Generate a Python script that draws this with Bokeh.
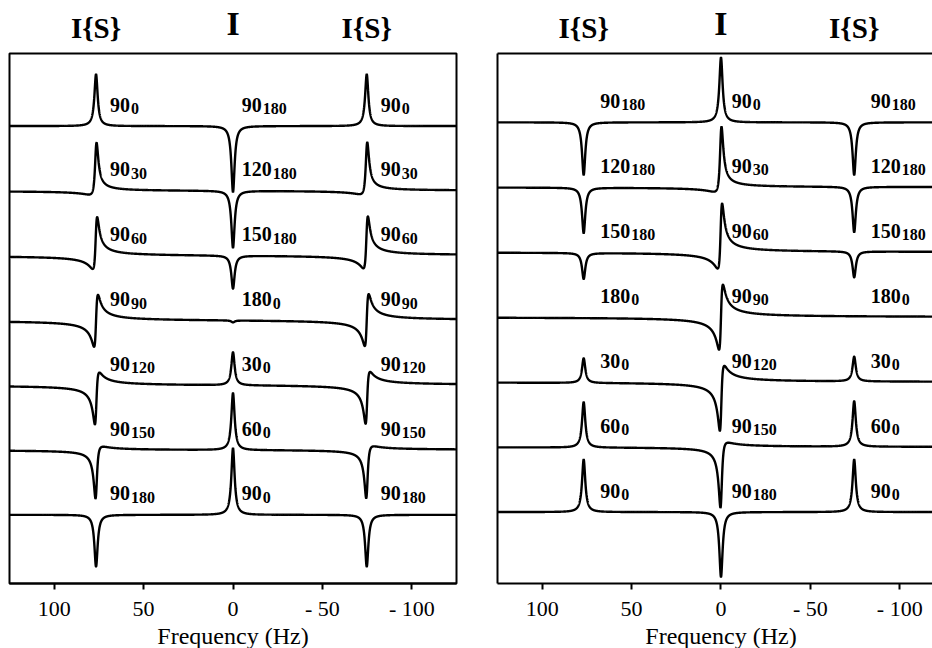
import numpy as np
from bokeh.plotting import figure
from bokeh.layouts import row, column
from bokeh.models import Range1d, FixedTicker, LinearAxis, ColumnDataSource
from bokeh.core.properties import value
from bokeh.embed import file_html
from bokeh.resources import INLINE

# ---------------- data ----------------
tick_values = [100, 50, 0, -50, -100]
tick_labels = ["100", "50", "0", "- 50", "- 100"]
axis_title = "Frequency (Hz)"
header_text = ["I{S}", "I", "I{S}"]
header_size = ["29px", "34px", "29px"]

trace_offsets = [6, 5, 4, 3, 2, 1, 0]          # stacking of the 7 spectra
line_halfwidth_hz = 1.1                         # Lorentzian half width

# Left panel
left_peak_hz = [76.6, 0.0, -74.8]
left_side_amp = [0.80, 0.80, 0.80, 0.80, 0.80, 0.80, 0.80]
left_side_phase = [0, 30, 60, 90, 120, 150, 180]
left_center_amp = [-1.02, -0.88, -0.51, -0.03, 0.51, 0.88, 1.03]
left_center_phase = [0, 0, 0, 0, 0, 0, 0]
left_label_hz = [68.8, -4.9, -82.6]
left_side_main = ["90", "90", "90", "90", "90", "90", "90"]
left_side_sub = ["0", "30", "60", "90", "120", "150", "180"]
left_center_main = ["90", "120", "150", "180", "30", "60", "90"]
left_center_sub = ["180", "180", "180", "0", "0", "0", "0"]

# Right panel
right_peak_hz = [76.8, 0.0, -74.5]
right_side_amp = [-0.81, -0.70, -0.40, 0.0, 0.38, 0.70, 0.81]
right_side_phase = [0, 0, 0, 0, 0, 0, 0]
right_center_amp = [1.0, 1.0, 1.0, 1.0, 1.0, 1.0, 1.0]
right_center_phase = [0, 30, 60, 90, 120, 150, 180]
right_label_hz = [67.5, -6.0, -83.8]
right_side_main = ["90", "120", "150", "180", "30", "60", "90"]
right_side_sub = ["180", "180", "180", "0", "0", "0", "0"]
right_center_main = ["90", "90", "90", "90", "90", "90", "90"]
right_center_sub = ["0", "30", "60", "90", "120", "150", "180"]

freq = np.linspace(-130, 130, 5201)
FONT = "Liberation Serif"

HEADER_H = 50
PLOT_TOP = 3
FRAME_H = 533
PLOT_BOTTOM = 37
FOOTER_H = 25


def spectrum(peaks, amps, phases, offset):
    g = line_halfwidth_hz
    y = np.full_like(freq, float(offset))
    for f0, a, ph in zip(peaks, amps, phases):
        d = freq - f0
        den = d * d + g * g
        absorp = g * g / den
        disp = -d * g / den
        r = np.deg2rad(ph)
        y = y + a * (np.cos(r) * absorp + np.sin(r) * disp)
    return y


def blank(width, height, xr, ml, mr):
    f = figure(width=width, height=height, x_range=xr, y_range=Range1d(0, height),
               x_axis_location=None, y_axis_location=None, output_backend="svg",
               toolbar_location=None, min_border_left=ml, min_border_right=mr,
               min_border_top=0, min_border_bottom=0)
    f.grid.visible = False
    f.outline_line_color = None
    f.background_fill_color = "white"
    f.border_fill_color = "white"
    return f


def build(width, x_start, x_end, y_start, y_end, min_left, min_right, peaks,
          side_amp, side_phase, center_amp, center_phase, label_hz,
          side_main, side_sub, center_main, center_sub, with_outline):
    xr = Range1d(x_start, x_end)

    # header with the line assignments
    head = blank(width, HEADER_H, xr, min_left, min_right)
    hsrc = ColumnDataSource(dict(x=peaks, t=header_text, s=header_size,
                                 y=[HEADER_H - 27, HEADER_H - 23, HEADER_H - 27]))
    head.text(x="x", y="y", text="t", text_font_size="s", source=hsrc,
              text_font=value(FONT), text_font_style="bold", text_color="black",
              text_align="center", text_baseline="alphabetic")

    p = figure(width=width, height=PLOT_TOP + FRAME_H + PLOT_BOTTOM, x_range=xr,
               y_range=Range1d(y_start, y_end), output_backend="svg",
               toolbar_location=None, min_border_left=min_left,
               min_border_right=min_right, min_border_top=PLOT_TOP,
               min_border_bottom=PLOT_BOTTOM,
               y_axis_location="left" if not with_outline else None)
    p.grid.visible = False
    p.background_fill_color = "white"
    p.border_fill_color = "white"
    if with_outline:
        p.outline_line_color = "black"
        p.outline_line_width = 2
        p.outline_line_alpha = 1
    else:
        p.outline_line_color = None
        ya = p.yaxis[0]
        ya.ticker = FixedTicker(ticks=[])
        ya.major_label_text_font_size = "0px"
        ya.major_tick_line_color = None
        ya.minor_tick_line_color = None
        ya.major_tick_out = 0
        ya.major_tick_in = 0
        ya.major_label_standoff = 0
        ya.axis_line_width = 2
        top = LinearAxis(ticker=FixedTicker(ticks=[]), axis_line_width=2,
                         major_tick_line_color=None, minor_tick_line_color=None,
                         major_tick_out=0, major_tick_in=0, major_label_standoff=0,
                         major_label_text_font_size="0px")
        p.add_layout(top, "above")

    xa = p.below[0]
    xa.ticker = FixedTicker(ticks=tick_values)
    xa.major_label_overrides = dict(zip(tick_values, tick_labels))
    xa.major_tick_out = 6
    xa.major_tick_in = 0
    xa.major_tick_line_width = 2
    xa.minor_tick_line_color = None
    xa.axis_line_width = 2
    xa.major_label_standoff = 6
    xa.major_label_text_font = FONT
    xa.major_label_text_font_size = "22px"
    xa.major_label_text_color = "black"

    for i, off in enumerate(trace_offsets):
        amps = [side_amp[i], center_amp[i], side_amp[i]]
        phs = [side_phase[i], center_phase[i], side_phase[i]]
        p.line(freq, spectrum(peaks, amps, phs, off), line_color="black", line_width=2.4)

    lx, ly, mains, subs = [], [], [], []
    for i, off in enumerate(trace_offsets):
        for k, lab in enumerate(label_hz):
            lx.append(lab)
            ly.append(off + 0.33)
            if k == 1:
                mains.append(center_main[i]); subs.append(center_sub[i])
            else:
                mains.append(side_main[i]); subs.append(side_sub[i])
    src = ColumnDataSource(dict(x=lx, y=ly, main=mains, sub=subs,
                                sx=[10 * len(m) + 1 for m in mains]))
    p.text(x="x", y="y", text="main", source=src, text_font=value(FONT),
           text_font_style="bold", text_font_size="20px", text_color="black",
           text_align="left", text_baseline="alphabetic")
    p.text(x="x", y="y", text="sub", source=src, text_font=value(FONT),
           text_font_style="bold", text_font_size="16px", text_color="black",
           text_align="left", text_baseline="alphabetic", x_offset="sx", y_offset=4)

    foot = blank(width, FOOTER_H, xr, min_left, min_right)
    foot.text(x=[0], y=[FOOTER_H - 12], text=[axis_title], text_font=value(FONT),
              text_font_size="24px", text_color="black", text_align="center",
              text_baseline="middle")
    return column(head, p, foot, spacing=0)


left = build(477, 125, -125, -1.06, 7.12, 9, 21, left_peak_hz,
             left_side_amp, left_side_phase, left_center_amp, left_center_phase,
             left_label_hz, left_side_main, left_side_sub, left_center_main,
             left_center_sub, True)
right = build(455, 125, -118.3, -1.10, 7.06, 20, 0, right_peak_hz,
              right_side_amp, right_side_phase, right_center_amp, right_center_phase,
              right_label_hz, right_side_main, right_side_sub, right_center_main,
              right_center_sub, False)

layout = row(left, right, spacing=0)
open("out.html", "w").write(file_html(layout, INLINE))
